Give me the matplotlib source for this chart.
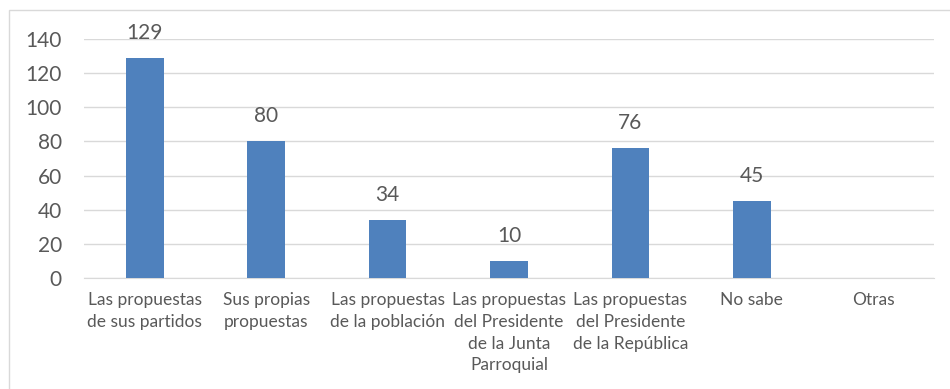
import matplotlib.pyplot as plt
from matplotlib.patches import Rectangle

plt.rcParams["font.family"] = ["Lato", "DejaVu Sans"]

categorias = [
    "Las propuestas\nde sus partidos",
    "Sus propias\npropuestas",
    "Las propuestas\nde la población",
    "Las propuestas\ndel Presidente\nde la Junta\nParroquial",
    "Las propuestas\ndel Presidente\nde la República",
    "No sabe",
    "Otras",
]
valores = [129, 80, 34, 10, 76, 45, 0]
etiquetas = ["129", "80", "34", "10", "76", "45", ""]

texto = "#595959"
azul = "#4F81BD"

fig = plt.figure(figsize=(9.5, 3.89), dpi=100)
ax = fig.add_axes([0.0884, 0.2853, 0.8947, 0.6144])

# marco exterior del gráfico (el borde derecho queda fuera de la imagen)
fig.patches.append(Rectangle((8.5 / 950, -0.05), 1.0, 1 - 9.5 / 389 + 0.05,
                             transform=fig.transFigure, fill=False,
                             edgecolor="#D9D9D9", linewidth=1.0))

x = range(len(categorias))
barras = ax.bar(x, valores, width=0.31, color=azul, zorder=3)
for b, v, t in zip(barras, valores, etiquetas):
    if t:
        ax.annotate(t, (b.get_x() + b.get_width() / 2, v), xytext=(0, 11),
                    textcoords="offset points", ha="center", va="bottom",
                    fontsize=15, color=texto)

ax.set_xlim(-0.5, len(categorias) - 0.5)
ax.set_ylim(0, 140)
ax.set_yticks(range(0, 141, 20))
ax.yaxis.grid(True, color="#D9D9D9", linewidth=1.0, zorder=0)
ax.set_xticks(list(x))
ax.set_xticklabels(categorias, fontsize=12.5, color=texto, linespacing=1.45)
ax.tick_params(axis="y", labelsize=15, labelcolor=texto, length=0, pad=16)
ax.tick_params(axis="x", length=0, pad=10)
for s in ["top", "right", "left"]:
    ax.spines[s].set_visible(False)
ax.spines["bottom"].set_color("#D9D9D9")

fig.savefig("out.png", dpi=100)
